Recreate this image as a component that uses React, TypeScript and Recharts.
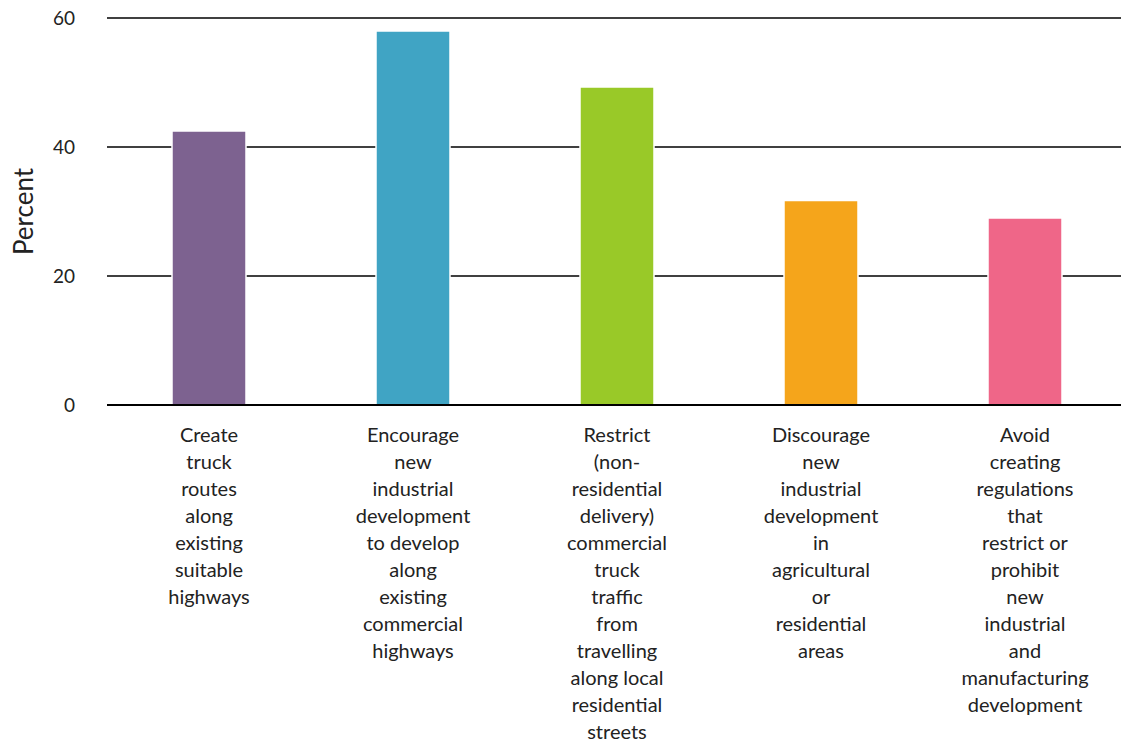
import React from "react";
import { BarChart, Bar, XAxis, YAxis, CartesianGrid, Cell, Label } from "recharts";

const CATEGORIES = [
  "Create\ntruck\nroutes\nalong\nexisting\nsuitable\nhighways",
  "Encourage\nnew\nindustrial\ndevelopment\nto develop\nalong\nexisting\ncommercial\nhighways",
  "Restrict\n(non-\nresidential\ndelivery)\ncommercial\ntruck\ntraffic\nfrom\ntravelling\nalong local\nresidential\nstreets",
  "Discourage\nnew\nindustrial\ndevelopment\nin\nagricultural\nor\nresidential\nareas",
  "Avoid\ncreating\nregulations\nthat\nrestrict or\nprohibit\nnew\nindustrial\nand\nmanufacturing\ndevelopment",
];
const VALUES = [42.5, 58.0, 49.3, 31.7, 29.0];
const COLORS = ["#7d6290", "#40a4c4", "#99c928", "#f5a51b", "#ef6688"];
const Y_TICKS = [0, 20, 40, 60];

const FONT = "Lato, 'Open Sans', sans-serif";

const data = CATEGORIES.map((name, i) => ({ name, value: VALUES[i] }));

function CategoryTick(props: any) {
  const { x, y, payload } = props;
  const lines = String(payload.value).split("\n");
  return (
    <text x={x} y={y} textAnchor="middle" fill="#222" fontSize={20} fontFamily={FONT}>
      {lines.map((line, i) => (
        <tspan key={i} x={x} dy={i === 0 ? 36.5 : 27}>
          {line}
        </tspan>
      ))}
    </text>
  );
}

export default function App() {
  return (
    <div
      style={{
        position: "absolute",
        left: 0,
        top: 0,
        width: 1121,
        height: 745,
        overflow: "hidden",
        background: "#fff",
      }}
    >
      <BarChart
        width={1127}
        height={745}
        data={data}
        margin={{ top: 18, right: 0, bottom: 0, left: 0 }}
      >
        <CartesianGrid vertical={false} stroke="#000" strokeWidth={1.5} />
        <XAxis
          dataKey="name"
          height={340}
          interval={0}
          tickLine={false}
          tickSize={0}
          tickMargin={0}
          axisLine={{ stroke: "#000", strokeWidth: 2 }}
          tick={<CategoryTick />}
        />
        <YAxis
          width={107}
          domain={[0, 60]}
          ticks={Y_TICKS}
          axisLine={false}
          tickLine={false}
          tickSize={0}
          tickMargin={32}
          tick={{ fill: "#222", fontSize: 19, fontFamily: FONT }}
        >
          <Label
            content={({ viewBox }: any) => {
              const cy = viewBox.y + viewBox.height / 2;
              return (
                <text
                  x={23}
                  y={cy}
                  transform={`rotate(-90, 23, ${cy})`}
                  textAnchor="middle"
                  dominantBaseline="central"
                  fill="#222"
                  fontSize={26}
                  fontFamily={FONT}
                >
                  Percent
                </text>
              );
            }}
          />
        </YAxis>
        <Bar dataKey="value" barSize={74} stroke="#fff" strokeWidth={1.5} isAnimationActive={false}>
          {data.map((_, i) => (
            <Cell key={i} fill={COLORS[i]} />
          ))}
        </Bar>
      </BarChart>
    </div>
  );
}
